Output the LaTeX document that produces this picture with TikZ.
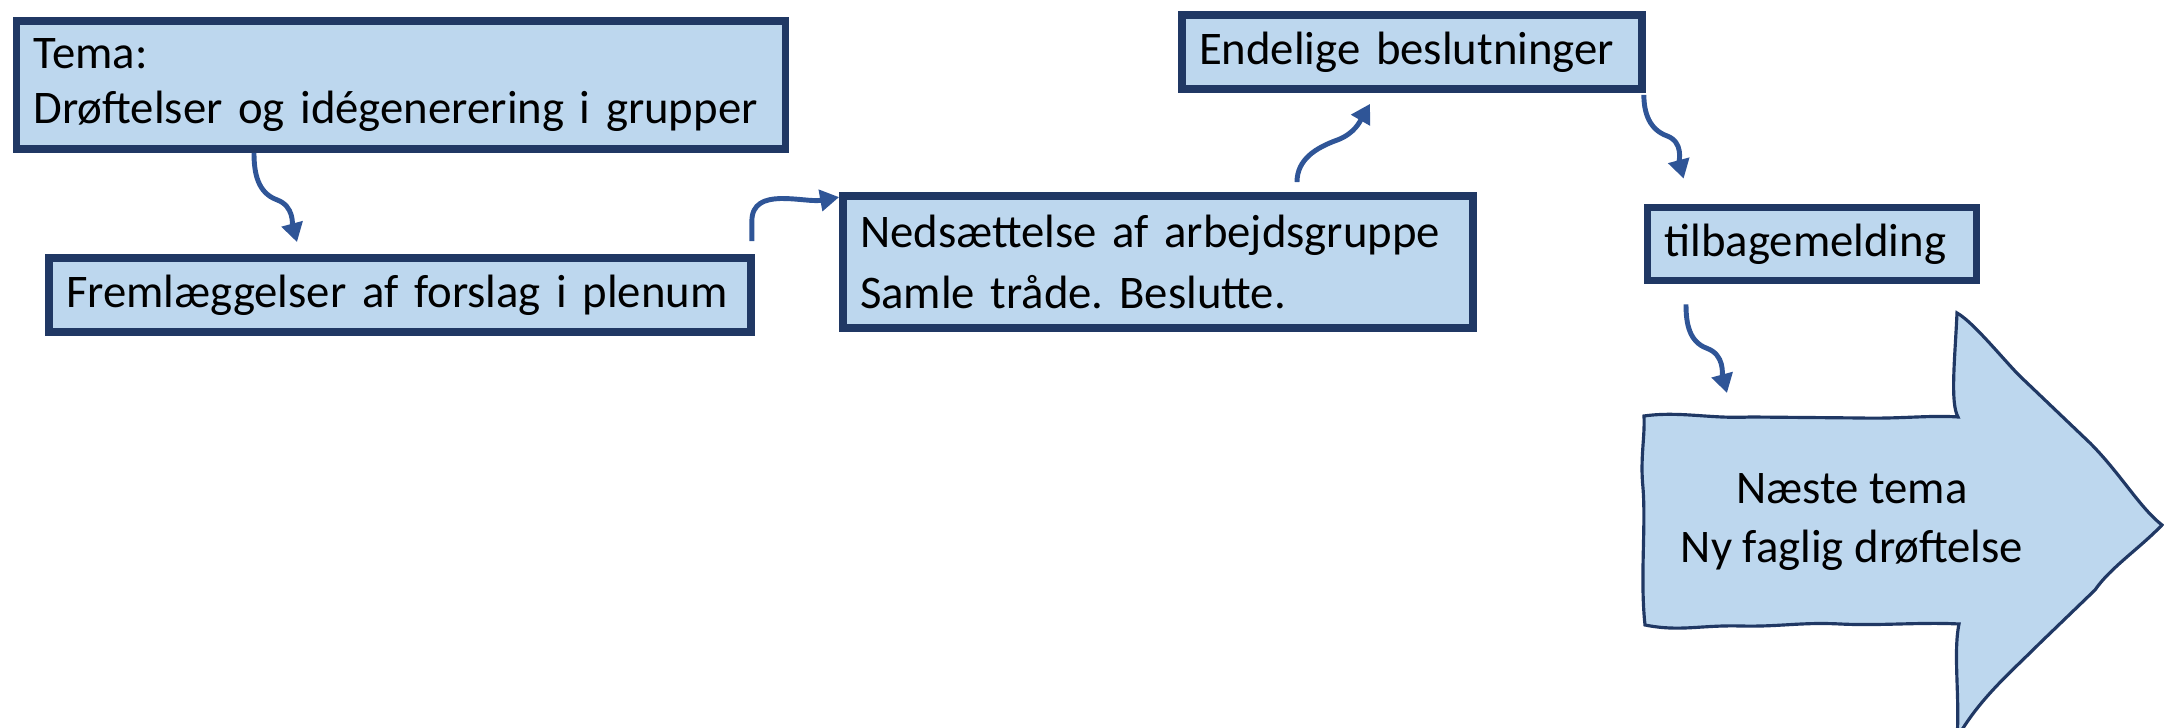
\documentclass[tikz,border=0pt]{standalone}
\usepackage{fontspec}
\setmainfont{Carlito}
\frenchspacing
\usepackage{xcolor}
\definecolor{colorFill}{HTML}{BDD7EE}
\definecolor{colorBorder}{HTML}{203864}
\definecolor{colorConnector}{HTML}{2F5597}
\usetikzlibrary{arrows.meta, positioning}
\tikzset{box/.style={draw=colorBorder, line width=2.2pt, fill=colorFill, inner xsep=0.17cm, inner ysep=0pt, align=left, font=\fontsize{13.3}{15.8}\selectfont}}
\tikzset{link/.style={->, colorConnector, line width=1.4pt}}

\begin{document}
\begin{tikzpicture}[>={Triangle[length=0.19cm, width=0.21cm]}]
\path[use as bounding box, clip] (0,0) rectangle (21.64,7.28);
% boxes
\node[box, text width=7.35cm, minimum height=1.28cm] (b0) at (4.01,6.43) {Tema:\\Drøftelser og idégenerering i grupper};
\node[box, text width=6.68cm, minimum height=0.74cm] (b1) at (4.00,4.33) {Fremlæggelser af forslag i plenum};
\node[box, text width=5.96cm, minimum height=1.32cm, font=\fontsize{13.3}{17.5}\selectfont] (b2) at (11.58,4.66) {Nedsættelse af arbejdsgruppe\\Samle tråde. Beslutte.};
\node[box, text width=4.26cm, minimum height=0.74cm] (b3) at (14.12,6.76) {Endelige beslutninger};
\node[box, text width=2.95cm, minimum height=0.73cm] (b4) at (18.12,4.84) {tilbagemelding};
% big arrow
\draw[colorBorder, line width=0.9pt, fill=colorFill] (16.44,3.12) .. controls (16.8,3.17) and (17.1,3.09) .. (17.5,3.11) -- (18.6,3.10) .. controls (19.0,3.09) and (19.3,3.13) .. (19.58,3.11)
 .. controls (19.50,3.25) and (19.55,3.7) .. (19.57,4.15)
 .. controls (19.75,4.05) and (20.1,3.6) .. (20.25,3.47) -- (20.9,2.85) .. controls (21.2,2.55) and (21.4,2.2) .. (21.62,2.03)
 .. controls (21.4,1.8) and (21.1,1.6) .. (20.95,1.38) -- (20.4,0.85) .. controls (20.1,0.55) and (19.8,0.3) .. (19.57,-0.1)
 .. controls (19.60,0.3) and (19.53,0.75) .. (19.59,1.04)
 .. controls (19.2,1.06) and (18.8,1.02) .. (18.4,1.04) .. controls (18.0,1.06) and (17.8,1.01) .. (17.4,1.02) .. controls (17.0,1.03) and (16.8,0.96) .. (16.45,1.03)
 .. controls (16.40,1.5) and (16.46,2.0) .. (16.43,2.4) .. controls (16.40,2.7) and (16.45,2.9) .. (16.44,3.12) -- cycle;
\node[align=center, font=\fontsize{13.3}{16.7}\selectfont] (b5) at (18.52,2.06) {Næste tema\\Ny faglig drøftelse};
% connector ends
\coordinate (s1) at ([xshift=-1.47cm]b0.south);
\coordinate (k1) at ([xshift=0.23cm, yshift=-0.47cm]s1);
\coordinate (e1) at ([xshift=-1.03cm, yshift=0.12cm]b1.north);
\coordinate (s2) at ([xshift=-0.03cm, yshift=0.13cm]b1.north east);
\coordinate (e2) at ([yshift=-0.05cm]b2.north west);
\coordinate (s3) at ([xshift=1.39cm, yshift=0.10cm]b2.north);
\coordinate (k3) at ([xshift=0.40cm, yshift=0.42cm]s3);
\coordinate (e3) at ([xshift=-0.42cm, yshift=-0.11cm]b3.south);
\coordinate (s4) at ([xshift=-0.02cm, yshift=-0.02cm]b3.south east);
\coordinate (k4) at ([xshift=0.23cm, yshift=-0.41cm]s4);
\coordinate (e4) at ([xshift=0.40cm, yshift=0.25cm]b4.north west);
\coordinate (s5) at ([xshift=-1.26cm, yshift=-0.20cm]b4.south);
\coordinate (k5) at ([xshift=0.21cm, yshift=-0.44cm]s5);
\coordinate (e5) at (17.27,3.35);
% connectors
\draw[link] (s1) to[out=-90, in=160] (k1) to[out=-20, in=105] (e1);
\draw[link] (s2) -- ++(0,0.2) to[out=90, in=190] (e2);
\draw[link] (s3) to[out=90, in=200] (k3) to[out=20, in=-120] (e3);
\draw[link] (s4) to[out=-90, in=160] (k4) to[out=-20, in=105] (e4);
\draw[link] (s5) to[out=-90, in=160] (k5) to[out=-20, in=105] (e5);
\end{tikzpicture}
\end{document}
